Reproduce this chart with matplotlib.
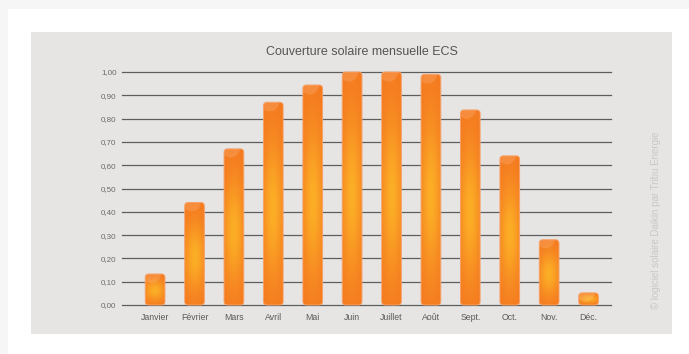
import numpy as np
import matplotlib
matplotlib.use("Agg")
import matplotlib.pyplot as plt
from matplotlib.patches import FancyBboxPatch, Rectangle
from matplotlib.colors import to_rgb

plt.rcParams['font.family'] = ['Liberation Sans', 'DejaVu Sans']

months = ["Janvier", "Février", "Mars", "Avril", "Mai", "Juin",
          "Juillet", "Août", "Sept.", "Oct.", "Nov.", "Déc."]
coverage = [0.133, 0.44, 0.67, 0.87, 0.944, 1.0, 1.0, 0.99, 0.837, 0.64, 0.28, 0.052]
yticks = [0.0, 0.1, 0.2, 0.3, 0.4, 0.5, 0.6, 0.7, 0.8, 0.9, 1.0]
ytick_labels = ["0,00", "0,10", "0,20", "0,30", "0,40", "0,50",
                "0,60", "0,70", "0,80", "0,90", "1,00"]
title = "Couverture solaire mensuelle ECS"
credit = "© logiciel solaire Daikin par Tribu Energie"

W, H = 689, 354
fig = plt.figure(figsize=(W / 100, H / 100), dpi=100)
fig.patch.set_facecolor("#F6F6F6")

# white card
fig.patches.append(Rectangle((8 / W, 0), 1, (H - 9) / H, transform=fig.transFigure,
                             facecolor="white", edgecolor="none", zorder=-10))
# gray panel
fig.patches.append(Rectangle((31 / W, (H - 334) / H), (672 - 31) / W, (334 - 32) / H,
                             transform=fig.transFigure, facecolor="#E6E5E3",
                             edgecolor="none", zorder=-9))

ax = fig.add_axes([122 / W, 49 / H, (611 - 122) / W, (305 - 72) / H])
ax.set_zorder(1)
ax.set_facecolor("none")
for s in ax.spines.values():
    s.set_visible(False)

for y in yticks:
    ax.axhline(y, color="#5E5E5E", lw=0.9, zorder=1, clip_on=False)

ax.set_yticks(yticks)
ax.set_yticklabels(ytick_labels, fontsize=5.8, color="#6A6A6A")
ax.set_xticks(range(len(months)))
ax.set_xticklabels(months, fontsize=6.3, color="#5A5A5A")
ax.tick_params(axis="both", length=0)
ax.tick_params(axis="y", pad=4)
ax.tick_params(axis="x", pad=6)

dark = np.array(to_rgb("#F47820"))
light = np.array(to_rgb("#FCAE26"))
bw = 0.5
aspect = 39.4 / 233.0
for i, v in enumerate(coverage):
    x0 = i - bw / 2
    patch = FancyBboxPatch((x0, 0), bw, v,
                           boxstyle="round,pad=0,rounding_size=0.09",
                           mutation_aspect=aspect,
                           facecolor="none", edgecolor="#F7A066", lw=0.7,
                           zorder=3, clip_on=False)
    ax.add_patch(patch)
    ny, nx = 200, 40
    yy = np.linspace(0, 1, ny)[:, None]
    xx = np.linspace(-1, 1, nx)[None, :]
    hpx = max(v * 233, 1)
    dy = (yy - 0.47) / 0.5
    t = np.exp(-(xx ** 2) / 1.1 - (dy ** 2) / 0.45)
    t = np.clip(t, 0, 1)
    img = dark[None, None, :] * (1 - t[..., None]) + light[None, None, :] * t[..., None]
    # glossy highlight near top (elliptical)
    top_px = (1 - yy) * hpx
    ell = ((xx + 0.35) / 0.95) ** 2 + (top_px / 9.0) ** 2
    gloss = np.where(ell < 1, 0.18, 0.0)
    img = img * (1 - gloss[..., None]) + np.array([1.0, 0.85, 0.75])[None, None, :] * gloss[..., None]
    im = ax.imshow(img, extent=(x0, x0 + bw, 0, v), origin="lower",
                   aspect="auto", interpolation="bilinear", zorder=2)
    im.set_clip_path(patch)

ax.set_xlim(-0.84, 11.57)
ax.set_ylim(0, 1.0)

fig.text(362 / W, 1 - 52 / H, title, ha="center", va="center",
         fontsize=9, color="#555555")
fig.text(656 / W, 1 - 220 / H, credit, ha="center", va="center",
         rotation=90, fontsize=7.0, color="#C8C8C8")

fig.savefig("out.png", dpi=100)
